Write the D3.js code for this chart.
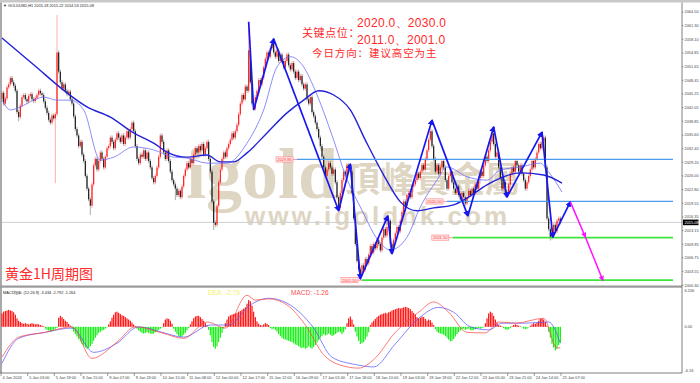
<!DOCTYPE html>
<html>
<head>
<meta charset="utf-8">
<script src="https://cdn.jsdelivr.net/npm/d3@7"></script>
<style>
  body { margin: 0; background: #fff; }
  svg { display: block; }
</style>
</head>
<body>
<svg id="chart" width="700" height="383"></svg>
<script>
// ---- data ----
const firstOpen = 2044.0;
// hourly closes, 8 bars per row
const closes = [
  2045.5, 2043.0, 2044.2, 2046.8, 2047.5, 2049.0, 2048.0, 2047.2,
  2046.0, 2041.0, 2039.8, 2042.5, 2044.5, 2045.0, 2044.0, 2043.5,
  2044.8, 2045.2, 2044.0, 2043.6, 2044.3, 2045.0, 2046.0, 2045.4,
  2045.0, 2043.5, 2042.0, 2040.8, 2039.2, 2038.5, 2040.2, 2039.5,
  2040.5, 2055.0, 2050.5, 2048.0, 2046.5, 2047.5, 2046.0, 2045.2,
  2045.8, 2044.0, 2043.0, 2040.0, 2037.0, 2035.5, 2033.0, 2034.0,
  2031.0, 2029.5, 2026.0, 2023.0, 2020.5, 2019.0, 2024.0, 2028.5,
  2030.0, 2027.5, 2029.5, 2031.5, 2030.0, 2028.0, 2030.5, 2032.5,
  2033.0, 2035.0, 2034.0, 2032.5, 2034.5, 2036.0, 2035.0, 2034.0,
  2035.5, 2033.5, 2035.0, 2036.5, 2035.0, 2037.0, 2038.5, 2036.5,
  2033.0, 2030.0, 2029.0, 2031.0, 2030.5, 2032.0, 2030.0, 2031.5,
  2029.5, 2028.0, 2025.5, 2024.5, 2026.0, 2028.0, 2030.5, 2035.5,
  2034.0, 2031.5, 2030.0, 2032.0, 2029.5, 2027.0, 2025.0, 2024.0,
  2023.0, 2021.5, 2022.5, 2021.0, 2023.5, 2026.0, 2027.5, 2029.0,
  2028.0, 2030.0, 2029.0, 2031.0, 2032.5, 2031.5, 2033.0, 2032.0,
  2033.5, 2031.0, 2032.5, 2034.0, 2030.0, 2027.0, 2020.0, 2015.0,
  2014.5, 2019.0, 2024.5, 2027.5, 2030.0, 2031.5, 2030.5, 2032.5,
  2033.5, 2034.5, 2036.0, 2035.0, 2036.5, 2038.0, 2040.5, 2043.0,
  2045.0, 2044.0, 2047.0, 2046.0, 2055.5, 2048.0, 2043.0, 2041.8,
  2044.5, 2046.0, 2048.5, 2047.5, 2049.0, 2051.5, 2053.5, 2055.0,
  2054.0, 2056.0, 2057.0, 2055.0, 2054.0, 2055.5, 2053.0, 2054.5,
  2053.0, 2051.5, 2053.0, 2054.5, 2052.0, 2051.0, 2052.5, 2050.5,
  2049.0, 2050.5, 2048.5, 2049.5, 2047.5, 2046.5, 2047.5, 2044.0,
  2043.0, 2044.5, 2041.0, 2040.0, 2038.5, 2037.0, 2035.0, 2033.0,
  2030.5, 2028.0, 2026.0, 2027.5, 2029.0, 2028.0, 2026.5, 2027.5,
  2024.5, 2021.0, 2018.5, 2022.0, 2025.0, 2027.0, 2026.0, 2028.5,
  2028.0, 2027.0, 2022.0, 2016.0, 2010.0, 2006.0, 2004.0, 2002.8,
  2005.0, 2004.0, 2006.5, 2005.5, 2007.5, 2009.5, 2008.0, 2010.0,
  2009.0, 2011.0, 2010.0, 2008.5, 2011.5, 2013.5, 2012.0, 2014.0,
  2015.5, 2010.0, 2008.5, 2011.0, 2012.5, 2014.0, 2013.0, 2015.5,
  2017.5, 2020.0, 2019.0, 2021.5, 2022.0, 2021.0, 2023.5, 2024.0,
  2025.0, 2026.5, 2025.5, 2027.0, 2028.5, 2027.5, 2030.0, 2032.0,
  2034.5, 2036.5, 2033.0, 2030.0, 2027.0, 2028.5, 2026.5, 2028.0,
  2029.5, 2028.0, 2025.0, 2023.0, 2026.0, 2027.0, 2024.5, 2023.0,
  2022.0, 2023.5, 2021.5, 2020.5, 2022.0, 2021.0, 2019.5, 2021.0,
  2022.5, 2021.5, 2023.0, 2022.0, 2024.0, 2023.0, 2025.5, 2027.0,
  2026.0, 2028.5, 2030.5, 2029.5, 2032.0, 2034.0, 2036.0, 2033.5,
  2030.5, 2031.5, 2028.0, 2025.5, 2023.0, 2024.5, 2021.5, 2022.0,
  2024.0, 2026.5, 2028.0, 2027.0, 2029.5, 2028.5, 2027.0, 2028.5,
  2026.5, 2025.0, 2023.0, 2024.5, 2026.0, 2027.5, 2029.5, 2028.0,
  2030.0, 2031.5, 2033.5, 2032.5, 2034.0, 2035.0, 2028.0, 2016.0,
  2013.5, 2011.5, 2012.0, 2014.5, 2013.0, 2015.5, 2016.0, 2015.1
];
// long shadows that stand out (bar index, high / low)
const wicks = [
  {i: 10, l: 2038.8}, {i: 32, l: 2024.3}, {i: 33, h: 2063.8}, {i: 53, l: 2016.8},
  {i: 104, l: 2020.3}, {i: 127, l: 2013.3}, {i: 148, h: 2061.9}, {i: 163, h: 2058.2},
  {i: 202, l: 2017.8}, {i: 208, h: 2029.0}, {i: 215, l: 2001.8}, {i: 231, h: 2016.6},
  {i: 233, l: 2007.7}, {i: 257, h: 2037.8}, {i: 294, h: 2037.0}, {i: 324, h: 2036.3},
  {i: 329, l: 2010.8}
];

// moving averages, read at these bars
const maSlowBars = [0, 19, 39, 51, 65, 79, 91, 99, 111, 123, 131, 139, 147, 159, 171, 181, 190, 199, 209, 218, 229, 239, 249, 259, 271, 279, 291, 299, 311, 325, 336];
const maSlow = [2058.4, 2052.1, 2045.5, 2042.2, 2039.8, 2036.1, 2033.7, 2031.6, 2030.4, 2030.9, 2029.3, 2029.3, 2031.4, 2036.1, 2040.8, 2043.8, 2046.0, 2045.0, 2041.5, 2034.4, 2026.2, 2019.9, 2017.8, 2018.5, 2019.2, 2020.8, 2023.9, 2025.5, 2026.7, 2026.2, 2024.3];
const maFastBars = [0, 5, 11, 19, 25, 33, 41, 49, 59, 67, 79, 91, 103, 111, 123, 135, 147, 157, 165, 173, 181, 187, 199, 206, 215, 227, 233, 243, 251, 261, 267, 279, 291, 299, 311, 323, 327, 336];
const maFast = [2043.8, 2041.5, 2042.2, 2043.8, 2044.5, 2043.8, 2043.8, 2041.5, 2029.7, 2030.4, 2032.8, 2032.1, 2030.4, 2030.2, 2029.0, 2029.0, 2033.7, 2041.5, 2051.6, 2054.0, 2051.6, 2046.9, 2034.4, 2026.2, 2018.7, 2010.2, 2008.6, 2011.6, 2018.7, 2025.0, 2028.1, 2025.8, 2025.0, 2027.4, 2028.1, 2029.0, 2027.4, 2022.2];

// hand drawn zigzag and forecast
const zigBars = [148, 151, 163, 202, 209, 215, 231.5, 234, 258, 279.5, 295, 303, 324, 330.5, 341];
const zigPrices = [2062.2, 2041.5, 2058.2, 2017.8, 2028.8, 2001.8, 2016.6, 2007.7, 2039.1, 2016.6, 2037.5, 2021.0, 2036.3, 2011.6, 2019.9];
const planBars = [341, 350, 360.5];
const planPrices = [2019.9, 2011.65, 2001.5];

// key levels
const levelPrices = [2029.86, 2020.0, 2011.5, 2001.5];
const levelLabels = ["2029.86", "2020.00", "2011.50", "2001.50"];
const levelStartBars = [177, 267, 270.5, 216];
const levelColors = ["#4d9cf0", "#4d9cf0", "#3ce43c", "#3ce43c"];

// MACD histogram per bar
const macdHist = [
  2.2, 2.5, 2.6, 2.7, 2.8, 2.7, 2.6, 2.4, 2.0,
  1.4, 1.0, 0.8,
  0.6, 0.5, 0.6, 0.5, 0.4, 0.5, 0.6, 0.5, 0.4, 0.5, 0.4, 0.3, 0.2, 0.1,
  -0.3, -0.5, -0.6, -0.8, -0.7, -0.5, -0.3, -0.2,
  1.5, 1.8, 1.6, 1.3, 1.0, 0.8, 0.5, 0.2,
  -0.3, -0.8, -1.2, -1.6, -2.0, -2.4, -2.8, -3.1, -3.4, -3.6, -3.5, -3.2, -2.8, -2.3,
  -1.8, -1.4, -1.0, -0.8, -0.6, -0.5, -0.3, -0.1,
  0.4, 0.9, 1.5, 2.0, 2.4, 2.5, 2.3, 2.1, 1.9, 1.8, 1.6, 1.4, 1.2, 1.0, 0.7, 0.4, 0.1,
  -0.3, -0.6, -0.8, -1.0, -1.1, -1.0, -0.9, -1.0, -1.1, -1.2, -1.1, -0.9, -0.7, -0.5, -0.3, -0.1,
  0.6, 1.2, 1.4, 1.3, 1.0, 0.5,
  -0.3, -0.8, -1.2, -1.5, -1.7, -1.6, -1.3, -1.0, -0.6, -0.2,
  0.4, 0.9, 1.4, 1.7, 1.8, 1.8, 1.6, 1.3, 1.0, 0.6, 0.2,
  -0.5, -1.4, -2.5, -3.3, -3.6, -3.2, -2.5, -1.8, -1.0, -0.3,
  0.6, 1.2, 1.7, 1.9, 2.0, 2.1, 2.2, 2.3, 2.5, 2.6, 2.8, 3.0, 3.2, 3.8, 4.4, 4.2, 3.5,
  2.5, 1.6, 0.9, 0.5, 0.3, 0.2,
  0.4, 0.6, 0.5, 0.3, -0.2, -0.4, -0.3, -0.5,
  -0.8, -1.2, -1.5, -1.8, -2.0, -2.1, -2.2, -2.3, -2.4, -2.5, -2.7, -2.9, -3.0, -3.2,
  -3.4, -3.5, -3.4, -3.6, -3.5, -3.2, -3.4, -3.6, -3.3, -3.0, -2.6, -2.2, -1.8, -1.5,
  -1.2, -1.4, -1.3, -1.1, -1.3, -1.5, -1.4, -1.2, -1.0, -0.8, -0.9, -1.2, -0.9, -0.4,
  0.6, 1.4, 1.7, 1.2, 0.4,
  -0.8, -1.6, -2.3, -2.8, -2.7, -2.5, -2.1, -1.6, -0.9,
  0.3, 0.7, 1.0, 1.3, 1.6, 1.8, 2.0, 2.1, 2.2, 2.3, 2.2, 2.4, 2.5, 2.7, 2.8, 2.9, 3.0, 3.1, 3.0, 3.1,
  3.2, 3.3, 3.2, 3.1, 2.9, 2.6, 2.3, 2.0, 1.6, 1.4, 1.5, 1.7, 1.6, 1.3, 1.0, 1.2, 1.1, 0.7, 0.3,
  -0.4, -0.8, -1.0, -1.1, -1.2, -1.3, -1.5, -1.8, -2.1, -2.4, -2.3, -2.0, -1.6, -1.2, -0.9,
  -0.6, -0.4, -0.3, -0.5, -0.4, -0.3, -0.5, -0.6, -0.5, -0.4, -0.3, -0.2, -0.3, -0.2, -0.1,
  0.6, 1.4, 2.2, 2.5, 2.3, 1.8, 1.2, 0.7, 0.3,
  0.2, 0.1, -0.2, -0.4, -0.5, -0.4, -0.2, 0.1, 0.3, 0.4, 0.3, 0.2, 0.1, -0.1, -0.3, -0.4, -0.3, -0.1, 0.2, 0.4, 0.6, 0.5, 0.7,
  1.0, 1.3, 1.4, 1.2, 0.8, 0.2,
  -0.8, -1.8, -2.8, -3.4, -3.9, -3.6, -3.0, -2.6
];
// MACD lines, read at these bars
const difBars = [0, 10, 26, 42, 54, 69, 80, 96, 109, 123, 134, 147, 152, 160, 171, 182, 193, 203, 214, 223, 236, 250, 259, 268, 279, 290, 298, 308, 325, 333, 335];
const difValues = [-5.0, -1.7, -0.9, 0.0, -5.2, -2.5, 0.0, -1.0, -1.9, 0.8, -0.2, 5.2, 4.4, 4.6, 3.6, 0.3, -4.6, -6.3, -6.8, -5.4, -0.9, 2.4, 4.1, 2.4, -0.9, -1.0, 0.8, 0.6, 1.4, -3.5, -3.4];
const deaBars = [0, 10, 26, 42, 55, 69, 82, 96, 109, 125, 136, 149, 160, 171, 187, 198, 212, 223, 236, 250, 262, 271, 281, 292, 300, 314, 328, 335];
const deaValues = [-6.0, -1.9, -0.9, -0.2, -4.2, -2.7, 0.0, -0.9, -1.7, 0.3, 0.3, 3.6, 4.7, 3.9, -0.2, -5.0, -6.2, -6.6, -2.8, 1.4, 3.2, 2.4, 0.0, -0.5, 0.6, 0.6, 0.8, -2.7];

// axis labels
const priceTicks = [2064.50, 2061.30, 2058.10, 2054.85, 2051.65, 2048.45, 2045.25, 2042.05, 2038.85, 2035.60, 2032.40, 2029.20, 2026.00, 2022.80, 2019.55, 2016.35, 2013.15, 2009.95, 2006.75, 2003.55, 2000.30];
const lastPrice = 2015.08;
const dateLabels = ["4 Jan 2024", "5 Jan 03:00", "5 Jan 19:00", "8 Jan 15:00", "9 Jan 07:00", "9 Jan 23:00", "10 Jan 15:00", "11 Jan 08:00", "12 Jan 00:00", "12 Jan 17:00", "15 Jan 12:00", "16 Jan 09:00", "17 Jan 01:00", "17 Jan 18:00", "18 Jan 10:00", "19 Jan 03:00", "19 Jan 19:00", "22 Jan 12:00", "23 Jan 05:00", "23 Jan 21:00", "24 Jan 14:00", "25 Jan 07:00"];
const barsPerLabel = 16;

// ---- layout ----
const svg = d3.select("#chart");
const plotRight = 682;
const mainBottom = 285.5, macdBottom = 373;
const wickPad = 0.5;

const x = d3.scaleLinear().domain([0, 336]).range([2, 562]);
const y = d3.scaleLinear().domain([2000.3, 2064.5]).range([285.3, 12]);
const yM = d3.scaleLinear().domain([-7.6, 6.556]).range([macdBottom, 287]);

svg.append("rect").attr("width", 700).attr("height", 383).attr("fill", "#fff");
svg.append("rect").attr("width", 700).attr("height", 2.5).attr("fill", "#c8c8c8");

// watermark
const wm = svg.append("g").attr("fill", "#d6ccb4").attr("opacity", 0.8);
wm.append("text").attr("x", 186).attr("y", 198)
  .attr("font-family", "Liberation Serif, DejaVu Serif, serif").attr("font-weight", "bold")
  .attr("font-size", 72).text("igold");
wm.append("text").attr("x", 345).attr("y", 192)
  .attr("font-family", "Noto Sans CJK TC, sans-serif").attr("font-weight", "bold")
  .attr("font-size", 35).text("頂峰貴金屬");
wm.append("text").attr("x", 245).attr("y", 225)
  .attr("font-family", "Liberation Sans, Arial, sans-serif").attr("font-weight", "bold")
  .attr("font-size", 26).attr("letter-spacing", 3).text("www.igoldhk.com");

// current price line
svg.append("line").attr("x1", 2).attr("x2", plotRight)
  .attr("y1", y(lastPrice)).attr("y2", y(lastPrice))
  .attr("stroke", "#cfcfcf").attr("stroke-width", 1);

// candles
const opens = closes.map((c, i) => i === 0 ? firstOpen : closes[i - 1]);
const wickMap = new Map(wicks.map(w => [w.i, w]));
const bars = closes.map((c, i) => {
  const o = opens[i];
  const w = wickMap.get(i) || {};
  return {
    i, o, c,
    h: w.h !== undefined ? w.h : Math.max(o, c) + wickPad,
    l: w.l !== undefined ? w.l : Math.min(o, c) - wickPad
  };
});
const candleColor = d => d.c >= d.o ? "#ff0000" : "#000000";

const candles = svg.append("g");
candles.selectAll("line").data(bars).join("line")
  .attr("x1", d => x(d.i)).attr("x2", d => x(d.i))
  .attr("y1", d => y(d.h)).attr("y2", d => y(d.l))
  .attr("stroke", candleColor).attr("stroke-width", 0.6).attr("stroke-opacity", 0.55);
candles.selectAll("rect").data(bars).join("rect")
  .attr("x", d => x(d.i) - 0.6).attr("width", 1.2)
  .attr("y", d => y(Math.max(d.o, d.c)))
  .attr("height", d => Math.max(0.7, Math.abs(y(d.o) - y(d.c))))
  .attr("fill", candleColor).attr("fill-opacity", 0.85);

// moving averages
const maLine = d3.line().x(d => x(d[0])).y(d => y(d[1])).curve(d3.curveMonotoneX);
svg.append("path").attr("d", maLine(d3.zip(maFastBars, maFast)))
  .attr("fill", "none").attr("stroke", "#6f6fff").attr("stroke-width", 0.8);
svg.append("path").attr("d", maLine(d3.zip(maSlowBars, maSlow)))
  .attr("fill", "none").attr("stroke", "#2222d8").attr("stroke-width", 1.4);

// key levels
const tinyFont = "Liberation Sans, Arial, sans-serif";
levelPrices.forEach((p, k) => {
  const ly = y(p);
  const sx = x(levelStartBars[k]);
  svg.append("line").attr("x1", sx).attr("x2", 673).attr("y1", ly).attr("y2", ly)
    .attr("stroke", levelColors[k]).attr("stroke-width", k < 2 ? 1.3 : 1.8);
  svg.append("line").attr("x1", sx - 4).attr("x2", sx).attr("y1", ly).attr("y2", ly)
    .attr("stroke", "#ff8080").attr("stroke-width", 0.8);
  svg.append("rect").attr("x", sx - 21).attr("y", ly - 2.6).attr("width", 17).attr("height", 5.2)
    .attr("fill", "#ffe8e8").attr("stroke", "#ff8080").attr("stroke-width", 0.6);
  svg.append("text").attr("x", sx - 12.5).attr("y", ly + 1.5).attr("text-anchor", "middle")
    .attr("font-family", tinyFont).attr("font-size", 4)
    .attr("fill", "#ff3030").text(levelLabels[k]);
});

// arrow markers
const defs = svg.append("defs");
[["arrowBlue", "#1616f0"], ["arrowPink", "#ff10ff"]].forEach(([id, col]) => {
  defs.append("marker").attr("id", id).attr("viewBox", "0 0 10 10")
    .attr("refX", 8).attr("refY", 5).attr("markerWidth", 3.6).attr("markerHeight", 3.6)
    .attr("markerUnits", "strokeWidth").attr("orient", "auto")
    .append("path").attr("d", "M0,0L10,5L0,10z").attr("fill", col);
});

// zigzag
const zig = d3.zip(zigBars, zigPrices);
svg.append("g").selectAll("line").data(d3.pairs(zig)).join("line")
  .attr("x1", d => x(d[0][0])).attr("y1", d => y(d[0][1]))
  .attr("x2", d => x(d[1][0])).attr("y2", d => y(d[1][1]))
  .attr("stroke", "#1616f0").attr("stroke-width", 1.7)
  .attr("marker-end", (d, k) => k === 0 ? null : "url(#arrowBlue)");
const plan = d3.zip(planBars, planPrices);
svg.append("g").selectAll("line").data(d3.pairs(plan)).join("line")
  .attr("x1", d => x(d[0][0])).attr("y1", d => y(d[0][1]))
  .attr("x2", d => x(d[1][0])).attr("y2", d => y(d[1][1]))
  .attr("stroke", "#ff10ff").attr("stroke-width", 1.5)
  .attr("marker-end", "url(#arrowPink)");

// panel frames
svg.append("line").attr("x1", 1).attr("x2", 1).attr("y1", 2.5).attr("y2", macdBottom)
  .attr("stroke", "#707070").attr("stroke-width", 1.2);
svg.append("rect").attr("x", 0).attr("y", mainBottom).attr("width", plotRight).attr("height", 2.2)
  .attr("fill", "#9a9a9a");
svg.append("line").attr("x1", plotRight).attr("x2", plotRight).attr("y1", 2.5).attr("y2", macdBottom)
  .attr("stroke", "#606060").attr("stroke-width", 0.8);
svg.append("line").attr("x1", 0).attr("x2", plotRight).attr("y1", macdBottom).attr("y2", macdBottom)
  .attr("stroke", "#606060").attr("stroke-width", 0.8);

// price axis
const pAxis = svg.append("g");
pAxis.selectAll("line").data(priceTicks).join("line")
  .attr("x1", plotRight).attr("x2", plotRight + 1.5).attr("y1", d => y(d)).attr("y2", d => y(d))
  .attr("stroke", "#606060").attr("stroke-width", 0.6);
pAxis.selectAll("text").data(priceTicks).join("text")
  .attr("x", plotRight + 2.5).attr("y", d => y(d) + 1.4)
  .attr("font-family", tinyFont).attr("font-size", 3.9).attr("fill", "#444")
  .text(d => d.toFixed(2));
svg.append("rect").attr("x", plotRight + 1).attr("y", y(lastPrice) - 2.8).attr("width", 15.5).attr("height", 5.6)
  .attr("fill", "#000");
svg.append("text").attr("x", plotRight + 2.5).attr("y", y(lastPrice) + 1.4)
  .attr("font-family", tinyFont).attr("font-size", 3.9).attr("fill", "#fff").text(lastPrice.toFixed(2));

// MACD panel
svg.append("g").selectAll("rect").data(macdHist).join("rect")
  .attr("x", (d, i) => x(i) - 0.55).attr("width", 1.1)
  .attr("y", d => Math.min(yM(0), yM(d)))
  .attr("height", d => Math.abs(yM(d) - yM(0)))
  .attr("fill", d => d >= 0 ? "#ff0000" : "#00ee00");
const mLine = d3.line().x(d => x(d[0])).y(d => yM(d[1])).curve(d3.curveMonotoneX);
svg.append("path").attr("d", mLine(d3.zip(deaBars, deaValues)))
  .attr("fill", "none").attr("stroke", "#5050ff").attr("stroke-width", 0.7);
svg.append("path").attr("d", mLine(d3.zip(difBars, difValues)))
  .attr("fill", "none").attr("stroke", "#ff4040").attr("stroke-width", 0.7);

const macdTicks = [6.556, 0, -6.16];
svg.append("g").selectAll("text").data(macdTicks).join("text")
  .attr("x", plotRight + 2.5)
  .attr("y", d => d === 0 ? yM(0) + 1.4 : (d > 0 ? 291.5 : 372))
  .attr("font-family", tinyFont).attr("font-size", 3.9).attr("fill", "#444")
  .text(d => d === 0 ? "0.00" : (d > 0 ? d.toFixed(3) : d.toFixed(2)));

// time axis
const tAxis = svg.append("g");
tAxis.selectAll("line").data(dateLabels).join("line")
  .attr("x1", (d, k) => x(k * barsPerLabel) - 1).attr("x2", (d, k) => x(k * barsPerLabel) - 1)
  .attr("y1", macdBottom).attr("y2", macdBottom + 3)
  .attr("stroke", "#606060").attr("stroke-width", 0.6);
tAxis.selectAll("text").data(dateLabels).join("text")
  .attr("x", (d, k) => x(k * barsPerLabel) + 0.5).attr("y", 379)
  .attr("font-family", tinyFont).attr("font-size", 3.9).attr("fill", "#444")
  .text(d => d);

// header texts
svg.append("text").attr("x", 3).attr("y", 7.2)
  .attr("font-family", tinyFont).attr("font-size", 3.9).attr("fill", "#222")
  .text("▼ GOLDUSD,H1  2015.18 2015.22 2014.53 2015.08");
svg.append("text").attr("x", 3).attr("y", 293.5)
  .attr("font-family", tinyFont).attr("font-size", 3.9).attr("fill", "#222")
  .text("MACD指标 (12,26,9) -3.434 -2.792 -1.264");
svg.append("text").attr("x", 208).attr("y", 294.5)
  .attr("font-family", "Liberation Sans, sans-serif").attr("font-size", 6.5).attr("fill", "#f5f060")
  .text("DEA:   -2.79");
svg.append("text").attr("x", 291).attr("y", 294.5)
  .attr("font-family", "Liberation Sans, sans-serif").attr("font-size", 6.5).attr("fill", "#ff5050")
  .text("MACD:   -1.26");

// annotations
const red = "#ff2a2a";
const note = svg.append("g").attr("fill", red);
note.append("text").attr("x", 357).attr("y", 27).attr("font-family", "Liberation Sans, Arial, sans-serif")
  .attr("font-size", 12).attr("letter-spacing", 0.3).text("2020.0、2030.0");
note.append("text").attr("x", 302).attr("y", 37).attr("font-family", "Noto Sans CJK SC, sans-serif")
  .attr("font-size", 11).attr("letter-spacing", 0.6).text("关键点位：");
note.append("text").attr("x", 357).attr("y", 43.5).attr("font-family", "Liberation Sans, Arial, sans-serif")
  .attr("font-size", 12).attr("letter-spacing", 0.3).text("2011.0、2001.0");
note.append("text").attr("x", 312).attr("y", 57).attr("font-family", "Noto Sans CJK SC, sans-serif")
  .attr("font-size", 10.5).attr("letter-spacing", 0.9).text("今日方向：建议高空为主");
note.append("text").attr("x", 5).attr("y", 279).attr("font-family", "Noto Sans CJK SC, sans-serif")
  .attr("font-size", 14).text("黄金1H周期图");
</script>
</body>
</html>
